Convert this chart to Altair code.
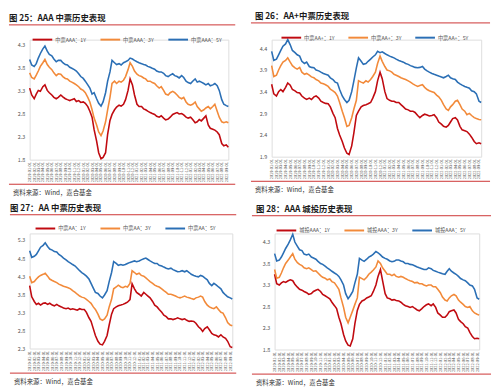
import altair as alt
import pandas as pd

DATES = pd.date_range("2019-01-01", periods=90, freq="SMS")

TITLES = ["图 25：AAA 中票历史表现", "图 26：AA+中票历史表现", "图 27：AA 中票历史表现", "图 28：AAA 城投历史表现"]
SOURCE = "资料来源：Wind，嘉合基金"
NAMES = [
    ["中票AAA：1Y", "中票AAA：3Y", "中票AAA：5Y"],
    ["中票AA+：1Y", "中票AA+：3Y", "中票AA+：5Y"],
    ["中票AA：1Y", "中票AA：3Y", "中票AA：5Y"],
    ["城投AAA：1Y", "城投AAA：3Y", "城投AAA：5Y"],
]
COLORS = ["#C00A10", "#F28A3A", "#2B6FB5"]

# ---- panel 1: AAA MTN
P1_1Y = [3.35,3.20, 3.12,3.22, 3.30,3.28, 3.38,3.42, 3.30,3.25, 3.20,3.15, 3.12,3.15, 3.20,3.16, 3.12,3.10,
         3.08,3.10, 3.12,3.06, 3.08,3.04, 3.05,3.02, 2.95,2.85, 2.72,2.45, 2.20,1.95, 1.82,1.85, 1.95,2.35,
         2.65,2.78, 2.88,2.94, 2.98,2.96, 3.00,3.10, 3.30,3.55, 3.42,3.20, 3.00,2.95, 2.95,2.90, 2.88,2.85,
         2.82,2.80, 2.78,2.74, 2.72,2.75, 2.70,2.66, 2.68,2.72, 2.78,2.80, 2.82,2.79, 2.80,2.77, 2.72,2.70,
         2.72,2.67, 2.60,2.62, 2.67,2.64, 2.70,2.75, 2.55,2.48, 2.46,2.44, 2.40,2.34, 2.15,2.10, 2.12,2.07]
P1_3Y = [3.68,3.58, 3.55,3.63, 3.72,3.82, 3.90,3.97, 3.86,3.80, 3.75,3.68, 3.62,3.66, 3.65,3.60, 3.56,3.55,
         3.50,3.48, 3.45,3.42, 3.38,3.33, 3.30,3.25, 3.15,3.05, 2.88,2.70, 2.55,2.40, 2.32,2.42, 2.62,2.88,
         3.15,3.45, 3.50,3.45, 3.50,3.48, 3.52,3.60, 3.75,3.90, 3.82,3.72, 3.65,3.62, 3.60,3.57, 3.55,3.50,
         3.50,3.47, 3.45,3.40, 3.35,3.38, 3.30,3.22, 3.20,3.25, 3.28,3.25, 3.20,3.15, 3.12,3.15, 3.05,3.00,
         2.98,3.00, 3.05,2.95, 2.90,2.85, 2.88,2.92, 2.95,2.90, 2.95,3.00, 2.85,2.72, 2.62,2.60, 2.62,2.60]
P1_5Y = [3.97,3.85, 3.82,3.88, 4.00,4.10, 4.20,4.26, 4.15,4.08, 4.05,3.98, 3.92,3.95, 3.95,3.90, 3.86,3.85,
         3.80,3.78, 3.75,3.72, 3.66,3.60, 3.56,3.50, 3.42,3.35, 3.22,3.25, 3.12,3.02, 2.96,3.05, 3.25,3.50,
         3.70,3.95, 3.90,3.86, 3.88,3.85, 3.90,3.92, 3.95,4.00, 3.98,3.95, 3.92,3.90, 3.88,3.86, 3.85,3.82,
         3.80,3.78, 3.76,3.72, 3.70,3.70, 3.67,3.62, 3.60,3.63, 3.66,3.62, 3.60,3.57, 3.62,3.58, 3.50,3.47,
         3.45,3.50, 3.55,3.48, 3.50,3.48, 3.45,3.42, 3.45,3.40, 3.42,3.45, 3.40,3.30, 3.10,3.00, 2.97,2.95]

# ---- panel 2: AA+ MTN
P2_1Y = [3.57,3.35, 3.30,3.40, 3.45,3.40, 3.50,3.60, 3.55,3.45, 3.42,3.38, 3.37,3.30, 3.25,3.22, 3.25,3.22,
         3.28,3.30, 3.25,3.18, 3.15,3.13, 3.12,3.05, 2.90,2.80, 2.55,2.40, 2.25,2.10, 1.98,1.95, 2.15,2.45,
         2.85,2.95, 3.05,3.08, 3.10,3.12, 3.15,3.25, 3.40,3.65, 3.85,3.70, 3.40,3.24, 3.20,3.18, 3.18,3.15,
         3.15,3.10, 3.05,3.00, 2.98,2.95, 2.95,2.92, 2.85,2.80, 2.85,2.88, 2.86,2.84, 2.85,2.87, 2.80,2.70,
         2.65,2.60, 2.58,2.62, 2.70,2.78, 2.80,2.75, 2.60,2.52, 2.50,2.48, 2.42,2.35, 2.25,2.20, 2.22,2.20]
P2_3Y = [4.00,3.75, 3.78,3.90, 4.00,4.08, 4.12,4.18, 4.08,4.00, 3.95,3.92, 3.96,3.85, 3.80,3.82, 3.78,3.74,
         3.72,3.68, 3.65,3.60, 3.58,3.56, 3.52,3.46, 3.42,3.38, 3.30,3.15, 2.95,2.80, 2.60,2.62, 2.80,3.00,
         3.20,3.65, 3.62,3.60, 3.65,3.62, 3.68,3.75, 3.85,4.05, 4.22,4.10, 3.98,3.90, 3.88,3.85, 3.80,3.78,
         3.75,3.72, 3.70,3.68, 3.65,3.62, 3.58,3.55, 3.52,3.54, 3.56,3.50, 3.45,3.42, 3.40,3.38, 3.32,3.28,
         3.20,3.10, 3.00,2.97, 3.05,3.10, 3.18,3.20, 3.10,3.00, 2.95,2.87, 2.90,2.85, 2.80,2.78, 2.76,2.75]
P2_5Y = [4.33,4.12, 4.15,4.25, 4.35,4.45, 4.50,4.60, 4.48,4.35, 4.30,4.25, 4.22,4.10, 4.05,4.08, 3.98,3.96,
         3.95,3.90, 3.88,3.85, 3.82,3.80, 3.78,3.72, 3.68,3.62, 3.60,3.45, 3.30,3.22, 3.15,3.20, 3.40,3.65,
         3.95,4.18, 4.10,4.03, 4.05,4.10, 4.15,4.20, 4.25,4.33, 4.30,4.32, 4.28,4.25, 4.22,4.20, 4.18,4.15,
         4.12,4.10, 4.08,4.05, 4.03,4.00, 3.98,3.96, 3.95,3.96, 3.98,3.92, 3.88,3.85, 3.82,3.80, 3.78,3.76,
         3.74,3.72, 3.75,3.78, 3.72,3.70, 3.68,3.62, 3.58,3.55, 3.52,3.50, 3.48,3.42, 3.40,3.35, 3.18,3.15]

# ---- panel 3: AA MTN
P3_1Y = [4.04,3.73, 3.60,3.52, 3.55,3.50, 3.55,3.56, 3.52,3.55, 3.50,3.48, 3.52,3.48, 3.45,3.42, 3.40,3.42,
         3.38,3.40, 3.38,3.36, 3.40,3.38, 3.38,3.30, 3.15,3.05, 2.85,2.66, 2.50,2.42, 2.40,2.50, 2.66,2.95,
         3.25,3.40, 3.45,3.48, 3.50,3.52, 3.55,3.58, 3.65,4.09, 3.95,3.85, 3.80,3.75, 3.85,3.80, 3.75,3.70,
         3.60,3.50, 3.45,3.38, 3.30,3.22, 3.18,3.12, 3.12,3.10, 3.12,3.15, 3.12,3.10, 3.12,3.08, 3.05,3.06,
         3.05,3.00, 2.90,2.85, 2.77,2.85, 2.90,2.82, 2.72,2.68, 2.66,2.62, 2.68,2.62, 2.58,2.50, 2.35,2.33]
P3_3Y = [4.30,4.12, 4.15,4.22, 4.28,4.32, 4.35,4.38, 4.30,4.22, 4.18,4.15, 4.12,4.08, 4.05,4.02, 4.00,3.98,
         3.95,3.90, 3.85,3.80, 3.75,3.72, 3.70,3.66, 3.60,3.55, 3.45,3.38, 3.25,3.12, 3.08,3.12, 3.22,3.45,
         3.66,3.95, 4.00,4.05, 4.00,3.98, 4.02,4.00, 4.10,4.45, 4.40,4.35, 4.38,4.32, 4.30,4.25, 4.20,4.15,
         4.10,4.05, 4.02,4.00, 3.95,3.90, 3.85,3.80, 3.80,3.78, 3.75,3.72, 3.70,3.72, 3.75,3.72, 3.70,3.68,
         3.66,3.70, 3.72,3.75, 3.72,3.60, 3.50,3.45, 3.42,3.40, 3.45,3.38, 3.30,3.28, 3.15,3.02, 2.95,2.93]
P3_5Y = [5.00,4.82, 4.85,4.90, 5.00,5.10, 5.15,5.22, 5.12,5.05, 5.02,4.98, 4.97,4.90, 4.85,4.80, 4.75,4.70,
         4.66,4.62, 4.58,4.52, 4.45,4.40, 4.35,4.30, 4.22,4.10, 3.97,3.85, 3.82,3.75, 3.70,3.78, 3.90,4.15,
         4.40,4.70, 4.65,4.60, 4.62,4.60, 4.62,4.65, 4.68,4.70, 4.72,4.70, 4.72,4.75, 4.78,4.80, 4.76,4.72,
         4.68,4.65, 4.65,4.60, 4.58,4.55, 4.52,4.50, 4.52,4.48, 4.45,4.42, 4.43,4.45, 4.42,4.45, 4.40,4.35,
         4.32,4.30, 4.28,4.32, 4.30,4.25, 4.20,4.10, 4.04,4.10, 4.05,4.00, 3.95,3.85, 3.78,3.73, 3.70,3.67]

# ---- panel 4: AAA LGFV
P4_1Y = [3.55,3.33, 3.30,3.35, 3.38,3.36, 3.40,3.42, 3.40,3.32, 3.25,3.20, 3.18,3.15, 3.12,3.08, 3.10,3.15,
         3.18,3.20, 3.15,3.08, 3.05,3.02, 2.98,2.90, 2.82,2.75, 2.55,2.40, 2.15,2.00, 1.90,1.88, 2.05,2.40,
         2.71,2.85, 2.93,2.95, 3.00,3.02, 3.05,3.15, 3.30,3.50, 3.66,3.40, 3.10,3.00, 2.98,2.95, 2.96,2.94,
         2.93,2.90, 2.85,2.82, 2.80,2.78, 2.80,2.76, 2.72,2.70, 2.75,2.80, 2.84,2.86, 2.82,2.86, 2.78,2.65,
         2.60,2.55, 2.55,2.60, 2.68,2.70, 2.72,2.65, 2.50,2.45, 2.40,2.33, 2.30,2.20, 2.10,2.05, 2.06,2.05]
P4_3Y = [3.66,3.46, 3.48,3.58, 3.70,3.80, 3.88,3.95, 4.03,3.90, 3.82,3.78, 3.75,3.70, 3.68,3.70, 3.66,3.62,
         3.63,3.58, 3.52,3.48, 3.46,3.42, 3.44,3.38, 3.35,3.28, 3.20,3.00, 2.78,2.55, 2.42,2.55, 2.71,2.85,
         3.00,3.48, 3.45,3.42, 3.48,3.55, 3.60,3.65, 3.72,3.86, 3.80,3.70, 3.62,3.55, 3.55,3.52, 3.55,3.50,
         3.48,3.50, 3.48,3.45, 3.42,3.40, 3.38,3.35, 3.36,3.33, 3.33,3.30, 3.28,3.30, 3.30,3.26, 3.26,3.20,
         3.12,3.02, 2.95,2.93, 3.00,3.05, 3.08,3.05, 2.95,2.90, 2.85,2.80, 2.78,2.80, 2.70,2.65, 2.62,2.60]
P4_5Y = [4.03,3.86, 3.88,3.95, 4.05,4.15, 4.25,4.35, 4.48,4.30, 4.20,4.12, 4.10,4.02, 4.00,4.02, 3.95,3.93,
         3.90,3.85, 3.80,3.78, 3.74,3.70, 3.66,3.62, 3.58,3.55, 3.50,3.42, 3.30,3.10, 2.98,3.05, 3.15,3.35,
         3.55,3.92, 3.88,3.85, 3.90,3.95, 3.98,4.02, 4.08,4.05, 4.00,3.95, 3.92,3.90, 3.86,3.84, 3.85,3.88,
         3.88,3.86, 3.84,3.80, 3.80,3.78, 3.77,3.75, 3.72,3.70, 3.68,3.66, 3.66,3.70, 3.68,3.64, 3.62,3.60,
         3.58,3.56, 3.55,3.62, 3.68,3.62, 3.58,3.55, 3.50,3.45, 3.42,3.40, 3.35,3.30, 3.28,3.20, 3.00,2.97]

SERIES = [(P1_1Y, P1_3Y, P1_5Y), (P2_1Y, P2_3Y, P2_5Y), (P3_1Y, P3_3Y, P3_5Y), (P4_1Y, P4_3Y, P4_5Y)]
YTICKS = [[1.8, 2.3, 2.8, 3.3, 3.8, 4.3], [1.9, 2.4, 2.9, 3.4, 3.9, 4.4],
          [2.3, 2.8, 3.3, 3.8, 4.3, 4.8, 5.3], [1.8, 2.3, 2.8, 3.3, 3.8, 4.3]]
YDOMAINS = [[1.8, 4.4], [1.9, 4.6], [2.3, 5.48], [1.8, 4.5]]

# layout (pixels relative to plot origin): width, height, title x/y, rule x range, legend x/y, source x
LAYOUT = [
    dict(w=202, h=122, tx=-21, ty=-22, rx1=-21, rx2=209, lx=2, ly=-11, sx=-17),
    dict(w=213, h=119, tx=-17, ty=-24, rx1=-21, rx2=222, lx=9, ly=-13, sx=-17),
    dict(w=206, h=117, tx=-20, ty=-26, rx1=-20, rx2=210, lx=5, ly=-16, sx=-16),
    dict(w=208, h=118, tx=-19, ty=-25, rx1=-23, rx2=220, lx=1, ly=-14, sx=-19),
]
RED_RULE = "#CC3333"
FONT = "Noto Sans CJK SC"


def panel(i):
    L = LAYOUT[i]
    names = NAMES[i]
    rows = []
    for name, vals in zip(names, SERIES[i]):
        for d, v in zip(DATES, vals):
            rows.append({"date": d, "series": name, "value": v})
    df = pd.DataFrame(rows)

    lines = alt.Chart(df).mark_line(strokeWidth=1.6).encode(
        x=alt.X("date:T",
                scale=alt.Scale(domain=[alt.DateTime(year=2019, month=1, date=1),
                                        alt.DateTime(year=2022, month=9, date=15)]),
                axis=alt.Axis(title=None, format="%Y-%m-%d", labelAngle=270,
                              tickCount={"interval": "month", "step": 1},
                              labelOverlap=False, labelFlush=False, labelFontSize=4,
                              labelColor="#555555", ticks=False, domain=False, grid=False,
                              labelPadding=2, labelFont=FONT)),
        y=alt.Y("value:Q", scale=alt.Scale(domain=YDOMAINS[i], nice=False, zero=False),
                axis=alt.Axis(title=None, values=YTICKS[i], format=".1f", labelFontSize=5.5,
                              labelColor="#555555", ticks=False, domain=False, grid=False,
                              labelPadding=5, labelFont=FONT)),
        color=alt.Color("series:N", scale=alt.Scale(domain=names, range=COLORS),
                        legend=alt.Legend(orient="none", legendX=L["lx"], legendY=L["ly"],
                                          direction="horizontal", title=None, symbolType="stroke",
                                          symbolSize=400, symbolStrokeWidth=2, labelFontSize=5.3,
                                          labelColor="#555555", columnPadding=10, labelOffset=2,
                                          padding=0, labelFont=FONT)),
        order=alt.Order("date:T"),
    )

    tdf = pd.DataFrame({"t": [TITLES[i]]})
    title = alt.Chart(tdf).mark_text(align="left", baseline="middle", fontSize=8.5,
                                     fontWeight="bold", color="#1a1a1a", font=FONT).encode(
        x=alt.value(L["tx"]), y=alt.value(L["ty"]), text="t:N")
    rdf = pd.DataFrame({"k": [0]})
    rule_top = alt.Chart(rdf).mark_rule(color=RED_RULE, strokeWidth=1).encode(
        x=alt.value(L["rx1"]), x2=alt.value(L["rx2"]), y=alt.value(L["ty"] + 7))
    rule_bot = alt.Chart(rdf).mark_rule(color=RED_RULE, strokeWidth=1).encode(
        x=alt.value(L["rx1"]), x2=alt.value(L["rx2"]), y=alt.value(L["h"] + 25))
    sdf = pd.DataFrame({"t": [SOURCE]})
    source = alt.Chart(sdf).mark_text(align="left", baseline="middle", fontSize=6.5,
                                      color="#333333", font=FONT).encode(
        x=alt.value(L["sx"]), y=alt.value(L["h"] + 34), text="t:N")

    return alt.layer(lines, title, rule_top, rule_bot, source).properties(
        width=L["w"], height=L["h"])


row1 = alt.hconcat(panel(0), panel(1), spacing=14).resolve_scale(color="independent")
row2 = alt.hconcat(panel(2), panel(3), spacing=14).resolve_scale(color="independent")
chart = alt.vconcat(row1, row2, spacing=6).resolve_scale(color="independent").properties(
    padding=0
).configure_view(stroke="#D9D9D9", strokeWidth=0.8).configure(font=FONT)

chart.save("out.html", embed_options={"renderer": "svg", "actions": False})
